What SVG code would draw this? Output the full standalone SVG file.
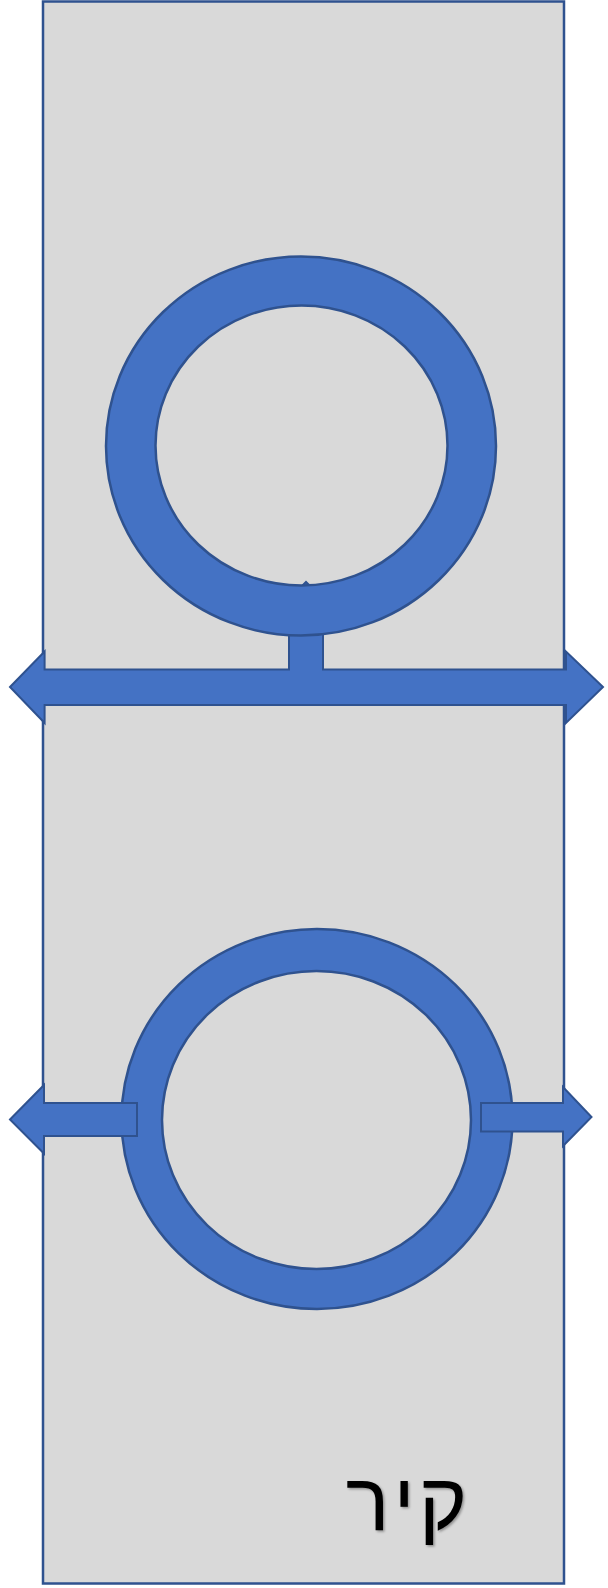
<svg xmlns="http://www.w3.org/2000/svg" width="608" height="1588" viewBox="0 0 608 1588">
<style>
.wall{fill:#D9D9D9;stroke:#2F528F;stroke-width:2.5}
.blue{fill:#4472C4;stroke:#2F528F;stroke-width:2;stroke-linejoin:miter}
.ring{fill:#4472C4;fill-rule:evenodd;stroke:#2F528F;stroke-width:2.5}
.lbl{font-family:"Liberation Sans","DejaVu Sans",Arial,sans-serif;font-size:82px;letter-spacing:4px;fill:#000}
</style>
<defs>
<filter id="sh" x="-20%" y="-20%" width="140%" height="140%">
<feDropShadow dx="1.5" dy="1.5" stdDeviation="1.2" flood-color="#000" flood-opacity="0.35"/>
</filter>
</defs>
<g id="wall">
<rect class="wall" x="43" y="1.5" width="521" height="1582"/>
</g>
<g id="connectors">
<polygon id="arrow-top" class="blue" points="10,687 44.6,651.5 44.6,669.5 289,669.5 289,618 270,618 306,582 342,618 323,618 323,669.5 566,669.5 566,651.5 603,687 566,723 566,705 44.6,705 44.6,723"/>
</g>
<g id="ring-top">
<path class="ring" d="M106,446 a195,189.5 0 1,0 390,0 a195,189.5 0 1,0 -390,0 Z M155.5,445.5 a146,140 0 1,0 292,0 a146,140 0 1,0 -292,0 Z"/>
</g>
<g id="ring-bottom">
<path class="ring" d="M121.5,1119 a195.5,190 0 1,0 391,0 a195.5,190 0 1,0 -391,0 Z M162,1120 a154.5,149 0 1,0 309,0 a154.5,149 0 1,0 -309,0 Z"/>
</g>
<g id="connectors-bottom">
<polygon id="arrow-left" class="blue" points="10,1119.5 44,1085 44,1103 137,1103 137,1136 44,1136 44,1153.5"/>
<polygon id="arrow-right" class="blue" points="481,1103 563,1103 563,1087 591.5,1117 563,1146 563,1131.5 481,1131.5"/>
</g>
<g id="label">
<text class="lbl" x="408.5" y="1530" text-anchor="middle" filter="url(#sh)">קיר</text>
</g>
</svg>
